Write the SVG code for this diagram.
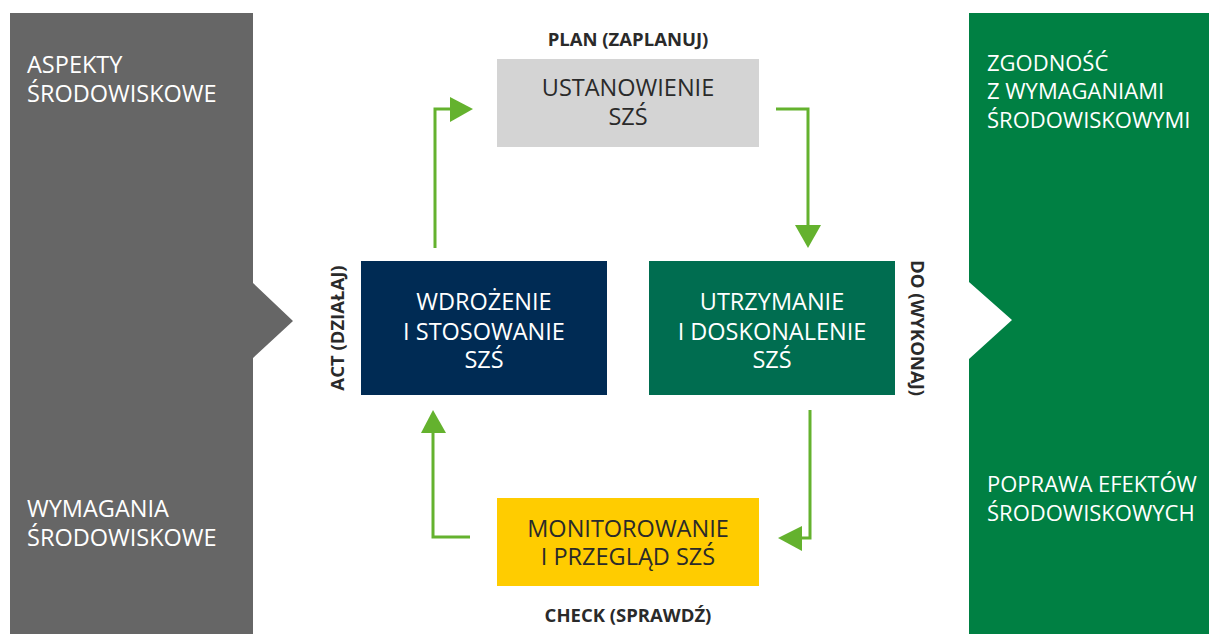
<svg xmlns="http://www.w3.org/2000/svg" width="1209" height="634" viewBox="0 0 1209 634">
<style>
.t{font-family:"Open Sans","Noto Sans","Liberation Sans",sans-serif;font-size:23.5px}
.r{font-size:22px}
.w{fill:#ffffff}
.d{fill:#2a2a2a}
.c{text-anchor:middle}
.b{font-family:"Open Sans","Noto Sans","Liberation Sans",sans-serif;font-size:18.5px;font-weight:bold;fill:#2a2a2a;text-anchor:middle}
.con{fill:none;stroke:#64b22e;stroke-width:3}
.head{fill:#64b22e}
</style>
<rect width="1209" height="634" fill="#ffffff"/>
<g id="input-panel">
<polygon points="10,13 253,13 253,283 293,321 253,358 253,634 10,634" fill="#666666"/>
<text class="t w" x="27" y="73">ASPEKTY</text>
<text class="t w" x="27" y="102">ŚRODOWISKOWE</text>
<text class="t w" x="27" y="517">WYMAGANIA</text>
<text class="t w" x="27" y="546">ŚRODOWISKOWE</text>
</g>
<g id="output-panel">
<polygon points="969,13 1209,13 1209,634 969,634 969,359 1012,320 969,282" fill="#008043"/>
<text class="t r w" x="987" y="71">ZGODNOŚĆ</text>
<text class="t r w" x="987" y="99">Z WYMAGANIAMI</text>
<text class="t r w" x="987" y="128">ŚRODOWISKOWYMI</text>
<text class="t r w" x="987" y="492">POPRAWA EFEKTÓW</text>
<text class="t r w" x="987" y="521">ŚRODOWISKOWYCH</text>
</g>
<g id="plan">
<text class="b" x="628" y="46">PLAN (ZAPLANUJ)</text>
<rect x="497" y="59" width="262" height="88" fill="#d4d4d4"/>
<text class="t d c" x="628" y="96">USTANOWIENIE</text>
<text class="t d c" x="628" y="125">SZŚ</text>
</g>
<g id="act">
<text class="b" transform="translate(344,328) rotate(-90)">ACT (DZIAŁAJ)</text>
<rect x="361" y="261" width="246" height="134" fill="#002b54"/>
<text class="t w c" x="484" y="310">WDROŻENIE</text>
<text class="t w c" x="484" y="340">I STOSOWANIE</text>
<text class="t w c" x="484" y="368">SZŚ</text>
</g>
<g id="do">
<text class="b" transform="translate(911,328) rotate(90)">DO (WYKONAJ)</text>
<rect x="649" y="261" width="246" height="134" fill="#006d50"/>
<text class="t w c" x="772" y="310">UTRZYMANIE</text>
<text class="t w c" x="772" y="340">I DOSKONALENIE</text>
<text class="t w c" x="772" y="368">SZŚ</text>
</g>
<g id="check">
<rect x="497" y="498" width="262" height="88" fill="#ffcc00"/>
<text class="t d c" x="628" y="537">MONITOROWANIE</text>
<text class="t d c" x="628" y="565">I PRZEGLĄD SZŚ</text>
<text class="b" x="628" y="622">CHECK (SPRAWDŹ)</text>
</g>
<g id="connectors">
<path class="con" d="M435,248 V109 H452"/>
<polygon class="head" points="450,97 473,109 450,122"/>
<path class="con" d="M776,109 H808 V227"/>
<polygon class="head" points="795,225 808,248 821,225"/>
<path class="con" d="M810,410 V538 H800"/>
<polygon class="head" points="802,526 778,538 802,551"/>
<path class="con" d="M470,537 H433 V431"/>
<polygon class="head" points="421,433 433,410 446,433"/>
</g>
</svg>
